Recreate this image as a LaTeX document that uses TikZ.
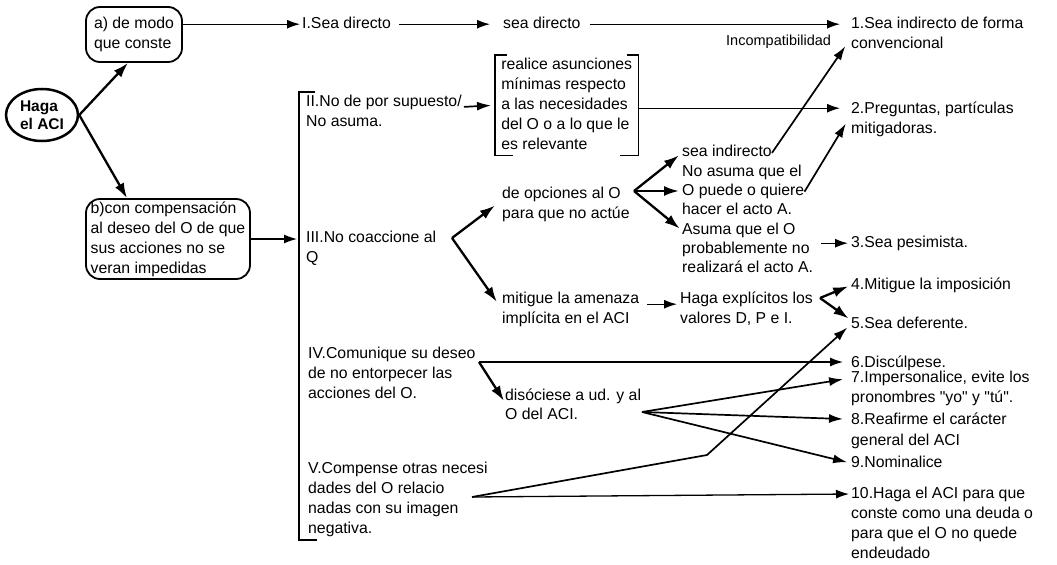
\documentclass[tikz,border=0pt]{standalone}
\usepackage{fontspec}
\setmainfont{Liberation Sans}[Ligatures=TeXOff]
\usetikzlibrary{arrows.meta,shapes.geometric}
\begin{document}
\begin{tikzpicture}[x=1pt,y=-1pt,
  txt/.style={anchor=north west,inner sep=0pt,align=left,font=\fontsize{15.8}{20}\selectfont},
  coltxt/.style={txt,font=\fontsize{15.8}{19.3}\selectfont},
  rbox/.style={draw,line width=1.8pt,rounded corners=14pt,inner sep=0pt,align=left,font=\fontsize{15.8}{20}\selectfont},
  thinarr/.style={line width=1.3pt,-{Latex[length=13pt,width=9pt]}},
  medarr/.style={line width=1.7pt,-{Latex[length=14pt,width=9pt]}},
  heavyarr/.style={line width=2.3pt,-{Latex[length=15pt,width=10pt]}},
  brack/.style={line width=1.5pt}
]
\fill[white] (0,0) rectangle (1057,563);

% root and the two main branches
\node[ellipse,draw,line width=2.5pt,minimum width=72pt,minimum height=52pt,inner sep=0pt,align=left,
      font=\bfseries\fontsize{15.5}{18}\selectfont] (haga) at (42,115) {Haga\\el ACI};
\node[rbox,minimum width=96pt,minimum height=55pt] (boxa) at (134,34.5)
  {\strut a) de modo\\\strut que conste};
\node[rbox,minimum width=164pt,minimum height=77pt] (boxb) at (168,239)
  {\strut b)con compensación\\\strut al deseo del O de que\\\strut sus acciones no se\\\strut veran impedidas};

% first row
\node[txt] (isea) at (302,14) {\strut I.Sea directo};
\node[txt] (sead) at (503,14) {\strut sea directo};
\node[txt] (one) at (851,14) {\strut 1.Sea indirecto de forma\\\strut convencional};
\node[txt,font=\fontsize{14.5}{18}\selectfont] (incomp) at (726,33) {\strut Incompatibilidad};

% bracketed list II - V
\coordinate (brtop) at (299,92);
\coordinate (brbot) at (299,540);
\draw[brack] (315,92) -- (brtop) -- (brbot) -- (317,540);

\node[txt] (ii) at (306,92) {\strut II.No de por supuesto/\\\strut No asuma.};
\node[txt,minimum width=143pt,minimum height=100pt] (rb) at (495,55)
  {\strut realice asunciones\\\strut mínimas respecto\\\strut a las necesidades\\\strut del O o a lo que le\\\strut es relevante};
\draw[brack] ([xshift=12pt]rb.north west) -- (rb.north west) -- (rb.south west) -- ([xshift=18pt]rb.south west);
\draw[brack] ([xshift=-11pt]rb.north east) -- (rb.north east) -- (rb.south east) -- ([xshift=-18pt]rb.south east);
\node[txt] (two) at (851,99) {\strut 2.Preguntas, partículas\\\strut mitigadoras.};

\node[txt] (iii) at (306,228) {\strut III.No coaccione al\\\strut Q};
\node[txt] (opc) at (502,184) {\strut de opciones al O\\\strut para que no actúe};
\node[txt] (mit) at (502,289) {\strut mitigue la amenaza\\\strut implícita en el ACI};
\node[coltxt] (si) at (682,143) {\strut sea indirecto};
\node[coltxt] (na) at (682,162.5) {\strut No asuma que el\\\strut O puede o quiere\\\strut hacer el acto A.};
\node[coltxt] (as) at (682,220.5) {\strut Asuma que el O\\\strut probablemente no\\\strut realizará el acto A.};
\node[txt] (three) at (851,233) {\strut 3.Sea pesimista.};
\node[txt] (haga2) at (680,289) {\strut Haga explícitos los\\\strut valores D, P e I.};
\node[txt] (four) at (851,275) {\strut 4.Mitigue la imposición};
\node[txt] (five) at (851,314) {\strut 5.Sea deferente.};

\node[txt] (iv) at (308,344) {\strut IV.Comunique su deseo\\\strut de no entorpecer las\\\strut acciones del O.};
\node[txt,font=\fontsize{15.8}{19}\selectfont] (dis) at (505,386.5) {\strut disóciese a ud. y al\\\strut O del ACI.};
\node[txt] (six) at (851,353) {\strut 6.Discúlpese.};
\node[txt] (seven) at (851,368) {\strut 7.Impersonalice, evite los\\\strut pronombres "yo" y "tú".};
\node[txt,font=\fontsize{15.8}{21}\selectfont] (eight) at (851,409.3) {\strut 8.Reafirme el carácter\\\strut general del ACI};
\node[txt] (nine) at (851,453) {\strut 9.Nominalice};

\node[txt] (vv) at (308,459) {\strut V.Compense otras necesi\\\strut dades del O relacio\\\strut nadas con su imagen\\\strut negativa.};
\node[txt] (ten) at (851,484) {\strut 10.Haga el ACI para que\\\strut conste como una deuda o\\\strut para que el O no quede\\\strut endeudado};

% branching points
\coordinate (v3) at (452,238);
\coordinate (v4) at (634,191);
\coordinate (v5) at (820,298);
\coordinate (v6) at (479,362);
\coordinate (v7) at (642,412);
\coordinate (v8) at (472,497);
\coordinate (bend5) at (707,455);

% connectors
\draw[heavyarr] (haga.east) -- ([xshift=-6pt]boxa.south);
\draw[heavyarr] (haga.east) -- ([xshift=-41pt]boxb.north);
\draw[thinarr,shorten >=2pt] (boxa.east |- isea.west) -- (isea.west);
\draw[thinarr,shorten <=8pt,shorten >=13pt] (isea.east) -- (sead.west);
\draw[thinarr,shorten <=9pt,shorten >=11pt] (sead.east) -- (one.west |- sead.east);
\draw[thinarr,shorten >=2pt] (boxb.east) -- (boxb.east -| brtop);

\draw[medarr,shorten <=2pt,shorten >=4pt] ([yshift=-15pt]ii.north east) -- (rb.west);
\draw[thinarr,shorten >=11pt] ([yshift=-3pt]rb.east) -- ([yshift=-3pt]rb.east -| two.west);

\draw[heavyarr,shorten >=9pt] (v3) -- ([yshift=4pt]opc.west);
\draw[heavyarr,shorten >=9pt] (v3) -- (mit.west);

\draw[heavyarr,shorten >=4pt] (v4) -- (si.west);
\draw[heavyarr,shorten >=3pt] (v4) -- (na.west |- v4);
\draw[heavyarr,shorten >=3pt] (v4) -- ([yshift=-10pt]as.north west);
\draw[medarr,shorten >=10pt] (si.east) -- ([yshift=-24pt]one.north west);
\draw[medarr,shorten >=10pt] (na.east) -- ([yshift=-16pt]two.north west);
\draw[thinarr,shorten >=3pt] ([xshift=8pt]as.east |- three.west) -- (three.west);

\draw[thinarr,shorten <=8pt,shorten >=3pt] ([yshift=5pt]mit.east) -- ([yshift=5pt]haga2.west);
\draw[heavyarr,shorten >=3pt] (v5) -- (four.west);
\draw[heavyarr,shorten >=3pt] (v5) -- ([yshift=4pt]five.west);

\draw[thinarr,shorten >=8pt] (v6) -- (v6 -| six.west);
\draw[heavyarr,shorten >=2pt] (v6) -- ([yshift=-16pt]dis.north west);

\draw[medarr,shorten >=8pt] (v7) -- ([yshift=-10pt]seven.north west);
\draw[medarr,shorten >=8pt] (v7) -- ([yshift=-10pt]eight.north west);
\draw[medarr,shorten >=4pt] (v7) -- (nine.west);

\draw[thinarr,shorten >=2pt] (v8) -- ([yshift=-10pt]ten.north west);
\draw[medarr,shorten >=5pt] (v8) -- (bend5) -- (five.west);
\end{tikzpicture}
\end{document}
